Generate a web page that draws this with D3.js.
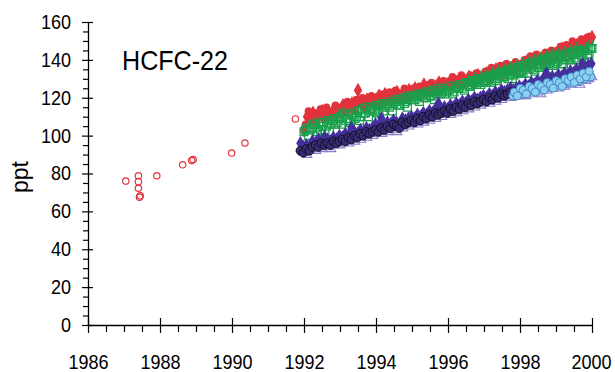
<!DOCTYPE html>
<html>
<head>
<meta charset="utf-8">
<script src="https://cdn.jsdelivr.net/npm/d3@7"></script>
<style>
  html, body { margin: 0; padding: 0; background: #fff; }
  text { font-family: "Liberation Sans", Arial, sans-serif; fill: #000; }
</style>
</head>
<body>
<svg id="chart" width="615" height="372"></svg>
<script>
// early flask data (year, ppt)
const flaskYears = [1987.05, 1987.4, 1987.4, 1987.4, 1987.43, 1987.45, 1987.91, 1988.63, 1988.88, 1988.92, 1989.99, 1990.36, 1991.76];
const flaskValues = [76, 78.8, 75.7, 72.2, 67.5, 68.2, 78.8, 84.6, 86.8, 87.4, 90.8, 96.1, 108.8];

// monthly series: start year + values (a second array for mid-month samples)
const redStart = 1992.0;
const redValues = [
  103, 110, 108, 112, 109, 111, 113, 110, 112, 111, 114, 112,
  113, 116, 114, 115, 117, 116, 124, 117, 116, 119, 118, 117,
  119, 121, 118, 122, 120, 121, 119, 123, 121, 120, 122, 124,
  122, 125, 123, 124, 127, 123, 125, 124, 126, 128, 125, 127,
  127, 126, 129, 128, 130, 127, 129, 131, 128, 130, 132, 130,
  131, 133, 130, 132, 135, 133, 132, 134, 136, 135, 134, 137,
  136, 138, 139, 137, 140, 138, 141, 140, 139, 142, 141, 143,
  142, 144, 146, 143, 145, 147, 146, 148, 147, 149, 148, 151,
  152
];
const redMidStart = 1992.04;
const redMidValues = [
  106, 113, 109, 107, 112, 114, 109, 115, 111, 113, 116, 113,
  115, 112, 118, 116, 113, 119, 118, 120, 114, 117, 121, 119,
  117, 122, 120, 118, 123, 121, 124, 120, 122, 125, 119, 123,
  125, 122, 126, 124, 122, 127, 128, 126, 123, 127, 129, 126,
  129, 131, 127, 130, 132, 129, 128, 132, 130, 133, 129, 131,
  134, 131, 136, 134, 133, 137, 135, 138, 134, 137, 139, 136,
  138, 140, 137, 142, 139, 143, 140, 142, 144, 141, 145, 143,
  145, 147, 144, 148, 146, 150, 147, 149, 151, 148, 152, 150
];

const greenStart = 1992.0;
const greenValues = [
  102, 104, 103, 106, 104, 107, 105, 103, 108, 106, 109, 107,
  110, 112, 108, 107, 111, 109, 113, 110, 112, 115, 113, 114,
  116, 113, 117, 115, 116, 118, 117, 119, 116, 120, 118, 121,
  120, 119, 122, 121, 120, 123, 121, 124, 122, 125, 123, 122,
  124, 126, 123, 125, 127, 125, 128, 126, 127, 129, 128, 127,
  129, 128, 131, 130, 129, 132, 131, 133, 130, 134, 132, 133,
  134, 133, 136, 135, 137, 134, 136, 138, 137, 139, 138, 137,
  139, 141, 138, 140, 142, 141, 143, 140, 144, 142, 145, 143,
  146
];
const greenMidStart = 1992.04;
const greenMidValues = [
  103, 100, 104, 106, 102, 103, 107, 105, 102, 108, 106, 109,
  106, 111, 109, 107, 112, 110, 108, 114, 112, 110, 115, 113,
  112, 116, 113, 117, 115, 113, 118, 116, 119, 117, 115, 120,
  119, 121, 118, 122, 120, 123, 121, 119, 124, 122, 125, 123,
  124, 122, 126, 125, 127, 124, 128, 126, 129, 127, 130, 128,
  129, 131, 128, 132, 130, 133, 131, 134, 132, 130, 135, 133,
  134, 136, 133, 137, 135, 138, 136, 139, 137, 135, 140, 138,
  139, 141, 138, 142, 140, 143, 141, 144, 142, 145, 143, 146
];

const greenPlusStart = 1996.5;
const greenPlusValues = [
  128, 130, 129, 131, 130, 132,
  131, 133, 132, 134, 133, 135, 134, 136, 135, 137, 136, 138,
  137, 139, 138, 140, 139, 141, 140, 142, 141, 143, 142, 144,
  143, 144, 142, 145, 144, 146, 145, 147, 146, 145, 147, 148,
  148
];

const navyStart = 1991.9;
const navyValues = [
  92, 91, 93, 92, 94, 95, 94, 96, 95, 96, 95, 97,
  96, 97, 98, 97, 99, 98, 100, 99, 101, 100, 102, 101,
  102, 103, 102, 104, 103, 105, 104, 106, 105, 104, 107, 106,
  107, 108, 107, 109, 108, 110, 109, 111, 110, 112, 111, 112,
  113, 112, 114, 113, 115, 114, 116, 115, 117, 116, 118, 117,
  118, 119, 118, 120, 119, 121, 120, 122, 121, 122, 123, 122,
  123
];

const purpleStart = 1991.9;
const purpleValues = [
  96, 94, 95, 94, 97, 96, 98, 97, 99, 98, 97, 99,
  98, 100, 99, 101, 100, 104, 102, 101, 103, 102, 104, 103,
  104, 106, 105, 109, 105, 107, 106, 108, 107, 106, 109, 108,
  109, 110, 109, 111, 110, 112, 111, 113, 112, 114, 117, 114,
  115, 114, 116, 115, 117, 116, 118, 117, 119, 118, 120, 119,
  120, 121, 120, 122, 121, 123, 122, 124, 123, 124, 125, 124,
  125, 126, 125, 127, 126, 128, 127, 129, 128, 130, 133, 130,
  131, 130, 132, 131, 133, 132, 134, 133, 135, 134, 138, 136,
  137, 138
];

const triangleStart = 1992.0;
const triangleValues = [
  91, 90, 92, 93, 92, 94, 93, 95, 94, 93, 95, 96,
  95, 96, 97, 96, 98, 97, 99, 98, 100, 99, 101, 100,
  101, 102, 101, 103, 102, 104, 103, 102, 105, 104, 106, 105,
  106, 107, 106, 108, 107, 109, 108, 110, 109, 111, 110, 111,
  112, 111, 113, 112, 114, 113, 115, 114, 116, 115, 117, 116,
  117, 118, 117, 119, 118, 120, 119, 120, 121, 120, 122, 121,
  121, 122, 121, 123, 122, 124, 123, 122, 125, 124, 126, 125,
  126, 125, 127, 126, 128, 127, 129, 128, 127, 130, 129, 130,
  131
];

const lightBlueStart = 1997.8;
const lightBlueValues = [
  121, 122, 123, 122, 124, 123, 124, 125, 124, 125, 126, 125,
  126, 127, 126, 127, 128, 127, 129, 128, 129, 130, 129, 131,
  130, 132, 131
];
const lightBlueMidStart = 1997.84;
const lightBlueMidValues = [
  123, 121, 125, 124, 122, 126, 125, 123, 127, 126, 124, 128,
  127, 125, 129, 128, 126, 130, 129, 131, 128, 132, 130, 133,
  131, 134
];

const xTicks = [1986, 1988, 1990, 1992, 1994, 1996, 1998, 2000];
const yTicks = [0, 20, 40, 60, 80, 100, 120, 140, 160];

const svg = d3.select("#chart");

const x = d3.scaleLinear().domain([1986, 2000]).range([88, 592]);
const y = d3.scaleLinear().domain([0, 160]).range([325, 22]);

function monthly(start, values) {
  return values.map((v, i) => ({ t: start + i / 12, v }));
}

// axes
const xMinor = d3.range(1986, 2000.01, 0.5).filter((d) => d % 2 !== 0);
svg.append("g")
  .attr("transform", "translate(0,325)")
  .call(d3.axisBottom(x).tickValues(xMinor).tickSize(7).tickSizeOuter(0).tickFormat(""))
  .call((g) => g.select(".domain").remove());

const xAxis = svg.append("g")
  .attr("transform", "translate(0,325)")
  .call(d3.axisBottom(x).tickValues(xTicks).tickSize(8).tickSizeOuter(0).tickFormat(d3.format("d")));
xAxis.selectAll(".tick").append("line").attr("y2", -7).attr("stroke", "#000");
xAxis.selectAll(".tick text").attr("y", 30).style("font-size", "20px");

const yMinor = d3.range(0, 160.01, 5).filter((d) => d % 20 !== 0);
svg.append("g")
  .attr("transform", "translate(88,0)")
  .call(d3.axisLeft(y).tickValues(yMinor).tickSize(5).tickSizeOuter(0).tickFormat(""))
  .call((g) => g.select(".domain").remove());

const yAxis = svg.append("g")
  .attr("transform", "translate(88,0)")
  .call(d3.axisLeft(y).tickValues(yTicks).tickSize(6).tickSizeOuter(0));
yAxis.selectAll(".tick").append("line").attr("x2", 5).attr("stroke", "#000");
yAxis.selectAll(".tick text").attr("x", -17).style("font-size", "20px");

svg.selectAll(".domain").attr("stroke-width", 1.3);
svg.selectAll(".tick line").attr("stroke-width", 1.2);
svg.selectAll(".tick text").each(function () {
  this.setAttribute("textLength", this.getComputedTextLength() * 0.9);
  this.setAttribute("lengthAdjust", "spacingAndGlyphs");
});
xAxis.selectAll(".tick text").filter((d) => d === 2000).attr("dx", -1);

// titles
svg.append("text")
  .attr("x", 122).attr("y", 70)
  .attr("textLength", 106).attr("lengthAdjust", "spacingAndGlyphs")
  .style("font-size", "28px")
  .text("HCFC-22");

svg.append("text")
  .attr("transform", "translate(28,177) rotate(-90)")
  .attr("text-anchor", "middle")
  .style("font-size", "23px")
  .text("ppt");

// marks
const plot = svg.append("g");

function symbols(data, type, size, style) {
  const sel = plot.append("g").selectAll("path")
    .data(data)
    .join("path")
    .attr("transform", (d) => `translate(${x(d.t)},${y(d.v)})`)
    .attr("d", typeof type === "string" ? type : d3.symbol().type(type).size(size));
  Object.entries(style).forEach(([k, v]) => sel.attr(k, v));
  return sel;
}

function dots(data, r, style) {
  const sel = plot.append("g").selectAll("circle")
    .data(data)
    .join("circle")
    .attr("cx", (d) => x(d.t))
    .attr("cy", (d) => y(d.v))
    .attr("r", r);
  Object.entries(style).forEach(([k, v]) => sel.attr(k, v));
  return sel;
}

const red = "#e2323b";
const green = "#17a04c";

symbols(monthly(redStart, redValues), d3.symbolDiamond, 62, { fill: red });
dots(monthly(redMidStart, redMidValues), 3.8, { fill: red });

symbols(monthly(greenPlusStart, greenPlusValues), "M-4.5,0H4.5M0,-4.5V4.5",
  0, { stroke: green, "stroke-width": 1.6, fill: "none" });
symbols(monthly(greenStart, greenValues), d3.symbolSquare, 60,
  { stroke: green, "stroke-width": 1.3, fill: "none" });
symbols(monthly(greenMidStart, greenMidValues), d3.symbolSquare, 60,
  { stroke: green, "stroke-width": 1.3, fill: "none" });

symbols(monthly(triangleStart, triangleValues), d3.symbolTriangle, 40,
  { stroke: "#8a7ccc", "stroke-width": 1.1, fill: "none" });
symbols(monthly(purpleStart, purpleValues), d3.symbolDiamond, 60, { fill: "#44309c" });

dots(monthly(navyStart, navyValues), 4.3, { fill: "#3a2a7c", stroke: "#111", "stroke-width": 1 });
dots(monthly(lightBlueStart, lightBlueValues), 4.0,
  { fill: "#8ccff0", stroke: "#3a86c4", "stroke-width": 0.9 });
dots(monthly(lightBlueMidStart, lightBlueMidValues), 4.0,
  { fill: "#8ccff0", stroke: "#3a86c4", "stroke-width": 0.9 });

dots(flaskYears.map((t, i) => ({ t, v: flaskValues[i] })), 3.2,
  { fill: "none", stroke: red, "stroke-width": 1.2 });
</script>
</body>
</html>
